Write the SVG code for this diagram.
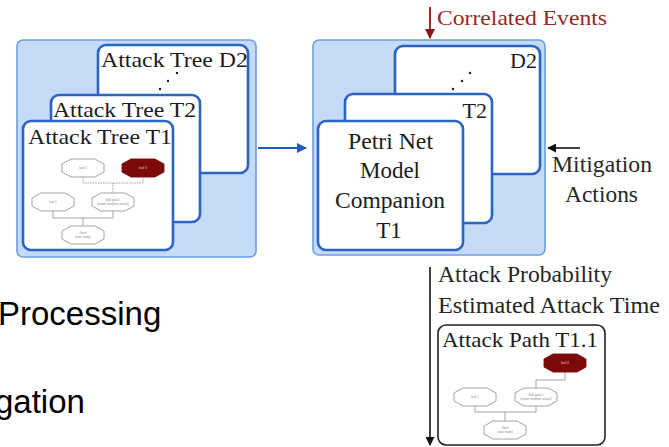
<svg xmlns="http://www.w3.org/2000/svg" xmlns:xlink="http://www.w3.org/1999/xlink" width="669" height="447" viewBox="0 0 669 447">
  <style>
    .panel { fill: #c4daf6; stroke: #6c9ee0; stroke-width: 1.6; }
    .card { fill: #ffffff; stroke: #2c64c2; stroke-width: 2.6; }
    .lbl { font-family: "Liberation Serif", "Times New Roman", serif; font-size: 22px; fill: #1c1c1c; }
    .pn { font-family: "Liberation Serif", "Times New Roman", serif; font-size: 23px; fill: #1c1c1c; }
    .side { font-family: "Liberation Serif", "Times New Roman", serif; font-size: 22.5px; fill: #262626; }
    .red { font-family: "Liberation Serif", "Times New Roman", serif; font-size: 22px; fill: #9a2626; }
    .slide { font-family: "Liberation Sans", Arial, sans-serif; font-size: 33px; fill: #000000; }
    .tree line, .tree polyline { stroke: #9a9a9a; stroke-width: 0.9; fill: none; }
    .dash { stroke-dasharray: 1.6 1; }
    .oct { fill: #ffffff; stroke: #9a9a9a; stroke-width: 0.9; }
    .oct-hot { fill: #7c0a0a; stroke: #7c0a0a; stroke-width: 0.9; }
    .tiny { font-family: "Liberation Sans", Arial, sans-serif; font-size: 3.2px; fill: #8a8a8a; text-anchor: middle; }
    .tiny-w { font-family: "Liberation Sans", Arial, sans-serif; font-size: 3.2px; fill: #f0d0d0; text-anchor: middle; }
    .dot { fill: #1c1c1c; }
  </style>
  <defs>
    <polygon id="oct" points="-12,-9 12,-9 21,-4 21,4 12,9 -12,9 -21,4 -21,-4"/>
    <marker id="ah-blue" viewBox="0 0 10 10" refX="9" refY="5" markerWidth="10" markerHeight="10" markerUnits="userSpaceOnUse" orient="auto">
      <path d="M0,0 L10,5 L0,10 z" fill="#1f5cc0"/>
    </marker>
    <marker id="ah-black" viewBox="0 0 10 10" refX="9" refY="5" markerWidth="9" markerHeight="9" markerUnits="userSpaceOnUse" orient="auto">
      <path d="M0,0 L10,5 L0,10 z" fill="#111111"/>
    </marker>
    <marker id="ah-red" viewBox="0 0 10 10" refX="9" refY="5" markerWidth="10" markerHeight="10" markerUnits="userSpaceOnUse" orient="auto">
      <path d="M0,0 L10,5 L0,10 z" fill="#8c1616"/>
    </marker>
  </defs>

  <!-- slide text partly hidden at the left edge -->
  <g id="slide-text">
    <text class="slide" x="-2" y="325">Processing</text>
    <text class="slide" x="-5" y="413">gation</text>
  </g>

  <!-- attack tree stack -->
  <g id="attack-trees">
    <rect class="panel" x="17" y="40" width="239" height="217" rx="6"/>
    <g id="tree-d2">
      <rect class="card" x="98" y="45" width="150" height="128" rx="8"/>
      <text class="lbl" x="101" y="67" textLength="147" lengthAdjust="spacingAndGlyphs">Attack Tree D2</text>
      <circle class="dot" cx="177" cy="73" r="1.2"/>
      <circle class="dot" cx="168" cy="81" r="1.2"/>
      <circle class="dot" cx="160" cy="89" r="1.2"/>
    </g>
    <g id="tree-t2">
      <rect class="card" x="51" y="95" width="149" height="127" rx="8"/>
      <text class="lbl" x="53" y="117" textLength="143" lengthAdjust="spacingAndGlyphs">Attack Tree T2</text>
    </g>
    <g id="tree-t1">
      <rect class="card" x="23" y="121" width="150" height="129" rx="8"/>
      <text class="lbl" x="28" y="144" textLength="144" lengthAdjust="spacingAndGlyphs">Attack Tree T1</text>
      <g class="tree">
        <polyline class="dash" points="83,177 83,183 143,183 143,178"/>
        <line class="dash" x1="113" y1="183" x2="113" y2="193"/>
        <polyline points="53,211 53,218 113,218 113,211"/>
        <line x1="83" y1="218" x2="83" y2="226"/>
        <use xlink:href="#oct" href="#oct" class="oct" x="83" y="168"/>
        <use xlink:href="#oct" href="#oct" class="oct-hot" x="143" y="168"/>
        <use xlink:href="#oct" href="#oct" class="oct" x="53" y="202"/>
        <use xlink:href="#oct" href="#oct" class="oct" x="113" y="202"/>
        <use xlink:href="#oct" href="#oct" class="oct" x="83" y="235"/>
        <text class="tiny" x="83" y="169">leaf 2</text>
        <text class="tiny-w" x="143" y="169">leaf 3</text>
        <text class="tiny" x="53" y="203">leaf 1</text>
        <text class="tiny" x="113" y="201">Sub goal 1</text>
        <text class="tiny" x="113" y="205">(some medium attack)</text>
        <text class="tiny" x="83" y="234">Goal</text>
        <text class="tiny" x="83" y="238">(root node)</text>
      </g>
    </g>
  </g>

  <!-- Petri net companion stack -->
  <g id="petri-nets">
    <rect class="panel" x="313" y="40" width="232" height="215" rx="6"/>
    <g id="pn-d2">
      <rect class="card" x="395" y="46" width="145" height="128" rx="8"/>
      <text class="lbl" x="537" y="68" text-anchor="end">D2</text>
      <circle class="dot" cx="470" cy="73" r="1.2"/>
      <circle class="dot" cx="462" cy="81" r="1.2"/>
      <circle class="dot" cx="453" cy="89" r="1.2"/>
    </g>
    <g id="pn-t2">
      <rect class="card" x="345" y="94" width="147" height="129" rx="8"/>
      <text class="lbl" x="487" y="118" text-anchor="end">T2</text>
    </g>
    <g id="pn-t1">
      <rect class="card" x="318" y="121" width="145" height="129" rx="8"/>
      <text class="pn" x="348" y="149" textLength="85" lengthAdjust="spacingAndGlyphs">Petri Net</text>
      <text class="pn" x="360" y="178" textLength="60" lengthAdjust="spacingAndGlyphs">Model</text>
      <text class="pn" x="335" y="208" textLength="110" lengthAdjust="spacingAndGlyphs">Companion</text>
      <text class="pn" x="389" y="238" text-anchor="middle">T1</text>
    </g>
  </g>

  <!-- side labels -->
  <g id="correlated-events">
    <text class="red" x="437" y="25" textLength="170" lengthAdjust="spacingAndGlyphs">Correlated Events</text>
  </g>
  <g id="mitigation-actions">
    <text class="side" x="552" y="172" textLength="100" lengthAdjust="spacingAndGlyphs">Mitigation</text>
    <text class="side" x="565" y="202" textLength="73" lengthAdjust="spacingAndGlyphs">Actions</text>
  </g>
  <g id="path-outputs">
    <text class="side" x="438" y="282" textLength="174" lengthAdjust="spacingAndGlyphs">Attack Probability</text>
    <text class="side" x="438" y="313" textLength="222" lengthAdjust="spacingAndGlyphs">Estimated Attack Time</text>
  </g>

  <!-- attack path result -->
  <g id="attack-path">
    <rect x="438" y="325" width="167" height="120" rx="8" fill="#ffffff" stroke="#222222" stroke-width="1.6"/>
    <text class="lbl" x="442" y="347" textLength="156" lengthAdjust="spacingAndGlyphs">Attack Path T1.1</text>
    <g class="tree">
      <polyline points="565,372 565,380 536,380 536,388"/>
      <polyline points="475,406 475,412 536,412 536,406"/>
      <line x1="505" y1="412" x2="505" y2="421"/>
      <use xlink:href="#oct" href="#oct" class="oct-hot" x="565" y="363"/>
      <use xlink:href="#oct" href="#oct" class="oct" x="536" y="397"/>
      <use xlink:href="#oct" href="#oct" class="oct" x="475" y="397"/>
      <use xlink:href="#oct" href="#oct" class="oct" x="505" y="430"/>
      <text class="tiny-w" x="565" y="364">leaf 3</text>
      <text class="tiny" x="536" y="396">Sub goal 1</text>
      <text class="tiny" x="536" y="400">(some medium attack)</text>
      <text class="tiny" x="475" y="398">leaf 1</text>
      <text class="tiny" x="505" y="429">Goal</text>
      <text class="tiny" x="505" y="433">(root node)</text>
    </g>
  </g>

  <!-- connectors -->
  <g id="connectors" fill="none">
    <line x1="258" y1="148" x2="306" y2="148" stroke="#1f5cc0" stroke-width="2" marker-end="url(#ah-blue)"/>
    <line x1="430" y1="7" x2="430" y2="38" stroke="#8c1616" stroke-width="1.8" marker-end="url(#ah-red)"/>
    <line x1="580" y1="148" x2="548" y2="148" stroke="#111111" stroke-width="1.6" marker-end="url(#ah-black)"/>
    <line x1="430" y1="267" x2="430" y2="445" stroke="#111111" stroke-width="1.6" marker-end="url(#ah-black)"/>
  </g>
</svg>
